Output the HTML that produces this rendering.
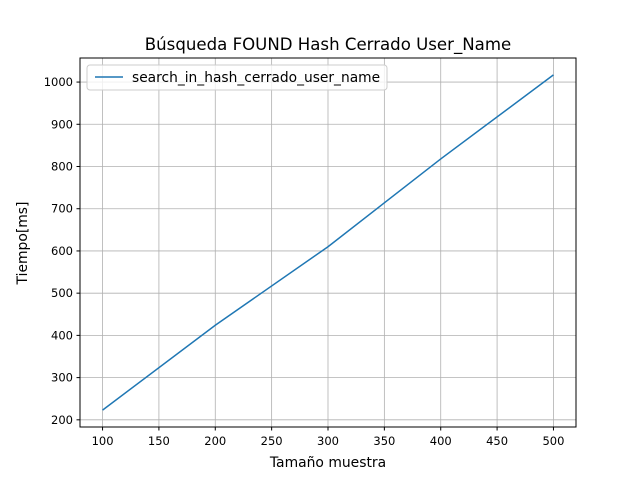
<!DOCTYPE html>
<html><head><meta charset="utf-8"><style>
body{margin:0;background:#fff;}
svg{display:block;font-family:"DejaVu Sans","Liberation Sans",sans-serif;}
</style></head><body>
<svg id="chart" width="640" height="480" viewBox="0 0 640 480">
<rect x="0" y="0" width="640" height="480" fill="#fff"/>
<text x="328" y="50" text-anchor="middle" font-size="16.6">Búsqueda FOUND Hash Cerrado User_Name</text>
<g id="grid"></g>
<g id="ticks"></g>
<polyline id="line" fill="none" stroke="#1f77b4" stroke-width="1.5"/>
<rect x="80" y="58" width="496" height="369" fill="none" stroke="#000" stroke-width="1"/>
<text x="328" y="467" text-anchor="middle" font-size="13.9">Tamaño muestra</text>
<text transform="translate(27,243) rotate(-90)" text-anchor="middle" font-size="13.9">Tiempo[ms]</text>
<g>
<rect x="87" y="65" width="300" height="25" fill="#fff" fill-opacity="0.8" stroke="#ccc" rx="3"/>
<line x1="95" y1="77" x2="123" y2="77" stroke="#1f77b4" stroke-width="1.5"/>
<text x="132" y="82" font-size="13.8">search_in_hash_cerrado_user_name</text>
</g>
</svg>
<script>
const xs=[100,200,300,400,500];
const ys=[223,424,610,818,1017];
const xTicks=[100,150,200,250,300,350,400,450,500];
const yTicks=[200,300,400,500,600,700,800,900,1000];
const X=v=>80+(v-80)/(520-80)*496;
const Y=v=>427-(v-183)/(1057-183)*369;
const ns="http://www.w3.org/2000/svg";
const g=document.getElementById('grid'),t=document.getElementById('ticks');
function mk(tag,a,p){const e=document.createElementNS(ns,tag);for(const k in a)e.setAttribute(k,a[k]);p.appendChild(e);return e;}
xTicks.forEach(v=>{
const gl=mk('line',{x1:X(v),x2:X(v),y1:58,y2:427,stroke:'#b0b0b0','stroke-width':0.8},g);


mk('line',{x1:X(v),x2:X(v),y1:427,y2:430.5,stroke:'#000'},t);
const tx=mk('text',{x:X(v),y:445,'text-anchor':'middle','font-size':11.5},t);
tx.textContent=v;


});
yTicks.forEach(v=>{
const gl=mk('line',{x1:80,x2:576,y1:Y(v),y2:Y(v),stroke:'#b0b0b0','stroke-width':0.8},g);


mk('line',{x1:76.5,x2:80,y1:Y(v),y2:Y(v),stroke:'#000'},t);
const tx=mk('text',{x:73,y:Y(v)+4,'text-anchor':'end','font-size':11.5},t);
tx.textContent=v;


});
document.getElementById('line').setAttribute('points',xs.map((x,i)=>X(x)+','+Y(ys[i])).join(' '));
</script>
</body></html>
